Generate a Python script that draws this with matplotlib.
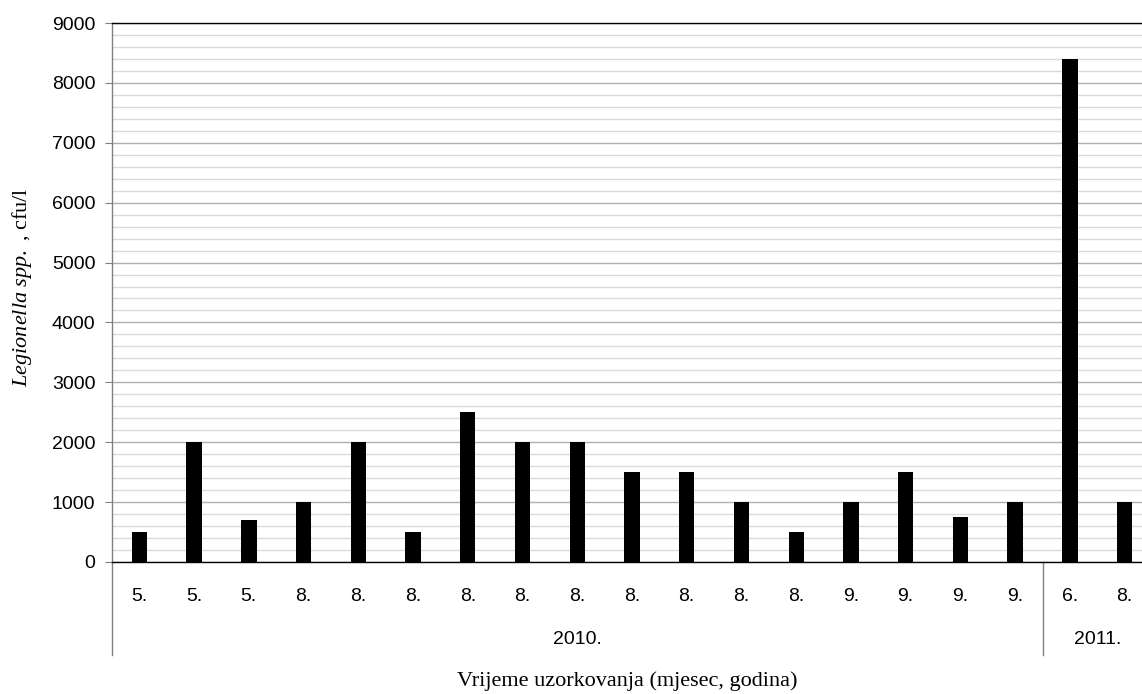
import matplotlib
matplotlib.use("Agg")
import matplotlib.pyplot as plt
import numpy as np
from matplotlib.ticker import MultipleLocator
import matplotlib.transforms as mtransforms

months = ["5.", "5.", "5.", "8.", "8.", "8.", "8.", "8.", "8.", "8.",
          "8.", "8.", "8.", "9.", "9.", "9.", "9.", "6.", "8."]
years = ["2010.", "2011."]
year_counts = [17, 2]
counts = [500, 2000, 700, 1000, 2000, 500, 2500, 2000, 2000, 1500,
          1500, 1000, 500, 1000, 1500, 750, 1000, 8400, 1000]

plt.rcParams["mathtext.fontset"] = "custom"
plt.rcParams["mathtext.rm"] = "Liberation Serif"
plt.rcParams["mathtext.it"] = "Liberation Serif:italic"

W, H = 1142, 694
fig = plt.figure(figsize=(W / 100, H / 100), dpi=100)
left, right, bottom, top = 112, 1152, 562, 23
ax = fig.add_axes([left / W, 1 - bottom / H, (right - left) / W, (bottom - top) / H])

x = np.arange(len(counts))
ax.bar(x, counts, width=0.28, color="black", zorder=3)

ax.set_xlim(-0.5, len(counts) - 0.5)
ax.set_ylim(0, 9000)
ax.yaxis.set_major_locator(MultipleLocator(1000))
ax.yaxis.set_minor_locator(MultipleLocator(200))
ax.grid(which="major", axis="y", color="#b0b0b0", linewidth=1.0, zorder=0)
ax.grid(which="minor", axis="y", color="#dadada", linewidth=1.0, zorder=0)
ax.tick_params(axis="y", which="major", length=5, width=0.8, color="#808080",
               labelsize=14, pad=7)
ax.tick_params(axis="y", which="minor", length=0)
for lab in ax.get_yticklabels():
    lab.set_fontfamily("Liberation Sans")

ax.set_xticks(x)
ax.set_xticklabels(months, fontsize=14, fontfamily="Liberation Sans")
ax.tick_params(axis="x", length=0, pad=19)

ax.spines["right"].set_visible(False)
ax.spines["top"].set_color("black")
ax.spines["top"].set_linewidth(1.0)
ax.spines["bottom"].set_color("black")
ax.spines["bottom"].set_linewidth(1.0)
ax.spines["left"].set_color("#808080")
ax.spines["left"].set_linewidth(1.0)

# year grouping below the month labels
trans = mtransforms.blended_transform_factory(ax.transData, ax.transAxes)
sep_bottom = -(655 - bottom) / (bottom - top)
year_y = -(640 - bottom) / (bottom - top)
start = -0.5
for yr, n in zip(years, year_counts):
    ax.plot([start, start], [0, sep_bottom], transform=trans, color="#808080",
            linewidth=1.0, clip_on=False)
    ax.text(start + n / 2, year_y, yr, transform=trans, ha="center", va="center",
            fontsize=14, fontfamily="Liberation Sans")
    start += n
ax.plot([start, start], [0, sep_bottom], transform=trans, color="#808080",
        linewidth=1.0, clip_on=False)

fig.text(627 / W, 1 - 681 / H, "Vrijeme uzorkovanja (mjesec, godina)",
         ha="center", va="center", fontsize=16, fontfamily="Liberation Serif")
fig.text(22 / W, 1 - 287 / H, r"$\it{Legionella\ spp.}$ , cfu/l",
         ha="center", va="center", rotation=90, fontsize=16,
         fontfamily="Liberation Serif")

fig.savefig("out.png", dpi=100)
